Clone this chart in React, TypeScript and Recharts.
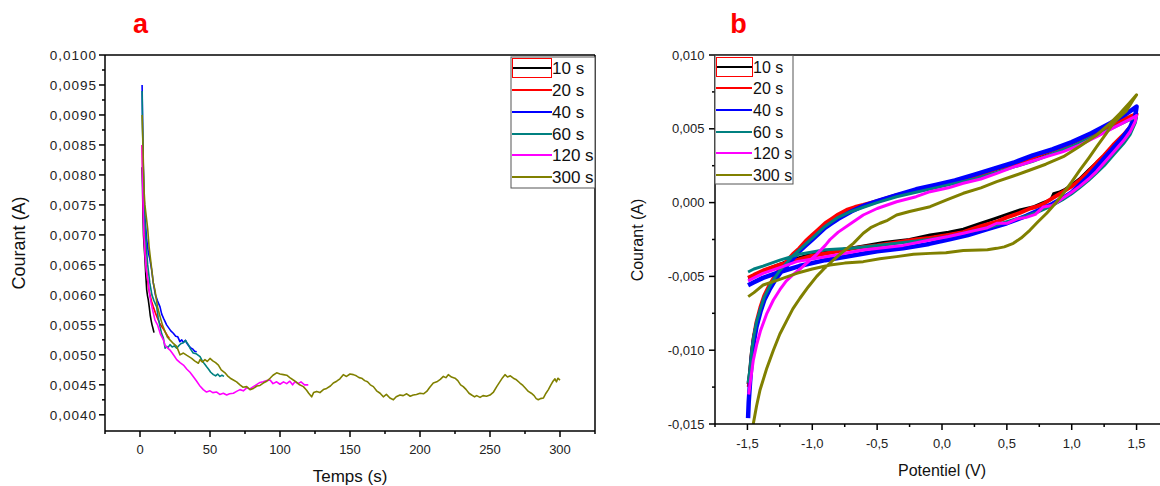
import React from 'react';
import { LineChart, Line, XAxis, YAxis, ReferenceLine } from 'recharts';

const FONT = '"Liberation Sans", Arial, Helvetica, sans-serif';

const seriesNames = ['10 s', '20 s', '40 s', '60 s', '120 s', '300 s'];
const seriesColors = ['#000000', '#FF0000', '#0000FF', '#008080', '#FF00FF', '#808000'];

// ---------- Panel a : Courant vs Temps ----------
const caBlack: [number, number][] = [[1.5,0.00813],[1.8,0.0078],[2.1,0.0074],[2.5,0.0070],[3.0,0.0068],[3.6,0.00658],[4.2,0.0063],[4.8,0.00608],[5.4,0.00598],[5.9,0.00592],[6.6,0.0058],[7.3,0.00566],[7.9,0.00558],[8.6,0.0055],[9.3,0.00544],[10.0,0.00537]];
const caRed: [number, number][] = [[1.5,0.0085],[1.9,0.0080],[2.3,0.0075],[2.8,0.0071],[3.5,0.0068],[4.3,0.0065],[5.2,0.0063],[6.2,0.0061],[7.3,0.00598],[8.4,0.00588],[9.5,0.0058],[11,0.0057],[12.5,0.00561],[14,0.00553],[15.5,0.00547],[17,0.00542],[18.5,0.00536],[19.8,0.00531],[20.9,0.00528]];
const caBlue: [number, number][] = [[1.5,0.0095],[1.9,0.0088],[2.3,0.0082],[2.8,0.0077],[3.5,0.0073],[4.8,0.00692],[6,0.0067],[7,0.0066],[8.3,0.00642],[9.5,0.0062],[11,0.0060],[12.5,0.0059],[14.3,0.0058],[15.5,0.00568],[17,0.0056],[19,0.0055],[20.5,0.00545],[22,0.0054],[23.8,0.00536],[25.5,0.00531],[27,0.0053],[28.5,0.00522],[29.8,0.00525],[31,0.00521],[32.5,0.00524],[33.3,0.0052],[34.5,0.00516],[36,0.00512],[37.5,0.0051],[39,0.00506],[40.5,0.00505]];
const caTeal: [number, number][] = [[1.5,0.0094],[1.9,0.0087],[2.3,0.0081],[2.8,0.0076],[3.5,0.0072],[4.5,0.0068],[5.5,0.0065],[7,0.0062],[8.5,0.006],[10,0.0059],[11.9,0.0058],[13,0.00562],[14.3,0.00547],[15.5,0.00535],[16.7,0.00528],[17.9,0.00511],[19,0.00514],[20,0.00512],[21.4,0.00517],[23,0.00513],[24.5,0.00515],[26.2,0.00511],[28,0.00516],[29.5,0.00519],[31,0.0052],[32.5,0.00524],[34.5,0.00517],[36,0.0051],[38,0.00503],[40,0.00502],[42.9,0.00497],[44.5,0.0049],[46,0.00485],[47.6,0.0048],[49,0.00476],[50.5,0.00471],[52.4,0.00467],[54,0.00465],[55.5,0.00468],[57.1,0.00464],[58.5,0.00466],[60,0.00464]];
const caPink: [number, number][] = [[1.5,0.0085],[1.9,0.0079],[2.3,0.0074],[2.8,0.0070],[3.5,0.0067],[4.5,0.0064],[5.95,0.0062],[7,0.00598],[8.5,0.0058],[10.7,0.00558],[12.5,0.0055],[14.5,0.00535],[16.7,0.00525],[18,0.00515],[19.5,0.00512],[21.4,0.00508],[23,0.00503],[24.5,0.00498],[26.2,0.00492],[28.6,0.00487],[31,0.00483],[33.5,0.00476],[35.7,0.00471],[38,0.00464],[40.5,0.00456],[42.5,0.00449],[45.2,0.00442],[47.5,0.00438],[50,0.0044],[52,0.00437],[54.8,0.00438],[57,0.00434],[59.5,0.00436],[61.9,0.00433],[64,0.00435],[66.7,0.00436],[69,0.00439],[71.4,0.00442],[73.8,0.0044],[76.2,0.00445],[78.5,0.00443],[81,0.00447],[83,0.0045],[85.7,0.00454],[88,0.00455],[90.5,0.00457],[92.9,0.00458],[95,0.00452],[97.6,0.00455],[100,0.00451],[102.5,0.00455],[104.8,0.00452],[107,0.00456],[109,0.0045],[110.7,0.00455],[113,0.00452],[115,0.00455],[117.5,0.0045],[120.2,0.0045]];
const caOlive: [number, number][] = [[1.5,0.0090],[2.0,0.0086],[2.5,0.0081],[3,0.0077],[3.5,0.0075],[4.5,0.0073],[5.5,0.0071],[6.5,0.0068],[7.5,0.0066],[8.5,0.0064],[9.5,0.0062],[10.7,0.00608],[12.5,0.0058],[14.3,0.00564],[16,0.0055],[17.9,0.00539],[19.5,0.0053],[21.4,0.00525],[23.8,0.00519],[26.2,0.00514],[28.6,0.005],[31,0.00503],[33.5,0.00499],[36.9,0.00494],[39,0.0049],[41.7,0.00486],[42.9,0.00492],[44.5,0.00488],[46.4,0.00492],[48,0.00489],[50,0.00494],[52,0.0049],[54,0.00487],[56,0.00483],[58,0.00475],[60.7,0.0047],[62.5,0.00465],[64.5,0.00461],[66.7,0.00458],[69,0.00455],[71.4,0.0045],[73.5,0.00446],[76.2,0.00447],[78.6,0.00442],[81,0.00444],[83.5,0.00448],[85.7,0.00449],[88,0.00453],[90.5,0.00456],[92.9,0.00461],[95,0.00466],[97.6,0.0047],[100,0.00468],[102.4,0.00467],[104.8,0.00466],[107,0.00462],[109.5,0.00458],[111.5,0.00455],[114,0.0045],[116.7,0.00447],[119,0.00441],[120.5,0.00436],[122.6,0.0043],[124,0.00437],[126.2,0.00439],[128.5,0.00437],[131,0.00442],[133.3,0.00444],[136,0.00448],[138.1,0.00453],[140.5,0.00456],[142.8,0.0046],[145.2,0.00467],[147.5,0.00464],[150,0.00468],[152.4,0.00467],[154.5,0.00465],[156.5,0.00462],[158.3,0.00461],[160.5,0.00457],[162.5,0.00455],[164.5,0.0045],[166.7,0.00447],[169,0.0044],[171.5,0.00436],[173.8,0.0043],[176,0.00434],[178.5,0.00428],[181,0.00425],[183,0.0043],[185.7,0.00433],[188,0.00432],[190.5,0.00435],[193,0.00431],[195.2,0.00433],[197.5,0.00434],[200,0.00436],[202.5,0.00435],[204.8,0.00439],[207,0.00446],[209.5,0.00453],[212,0.00455],[214.5,0.00459],[216.7,0.00464],[218.5,0.00462],[220.2,0.00467],[222.5,0.00463],[225,0.00461],[227,0.00457],[229,0.0045],[230.9,0.00447],[233,0.00442],[235,0.00436],[236.9,0.00433],[239,0.0043],[240.5,0.00432],[242.9,0.00429],[245,0.00432],[247.5,0.00431],[250,0.00433],[252.5,0.00438],[254.8,0.00447],[257,0.00455],[259,0.00462],[260.7,0.00467],[262.5,0.00463],[264.5,0.00465],[266.7,0.00461],[268.5,0.00459],[271.4,0.00453],[273.5,0.00449],[275.5,0.00444],[277.4,0.00439],[279.5,0.00436],[281.5,0.00432],[283,0.00427],[284.5,0.00425],[286,0.00427],[288.1,0.00428],[290,0.00436],[291.7,0.00442],[293.5,0.0045],[295,0.00456],[296.4,0.0046],[297.5,0.00455],[298.5,0.00461],[300,0.00458]];

const aXTicks = [-25, 0, 25, 50, 75, 100, 125, 150, 175, 200, 225, 250, 275, 300, 325];
const aXMajor = [0, 50, 100, 150, 200, 250, 300];
const aYTicks = [0.004, 0.00425, 0.0045, 0.00475, 0.005, 0.00525, 0.0055, 0.00575, 0.006, 0.00625, 0.0065, 0.00675, 0.007, 0.00725, 0.0075, 0.00775, 0.008, 0.00825, 0.0085, 0.00875, 0.009, 0.00925, 0.0095, 0.00975, 0.01];
const aYMajor = [0.004, 0.0045, 0.005, 0.0055, 0.006, 0.0065, 0.007, 0.0075, 0.008, 0.0085, 0.009, 0.0095, 0.01];

// ---------- Panel b : Courant vs Potentiel ----------
const cvBlack: [number, number][] = [[-1.495,-0.0123],[-1.485,-0.0116],[-1.47,-0.0102],[-1.455,-0.0092],[-1.43,-0.0082],[-1.40,-0.0072],[-1.37,-0.0064],[-1.33,-0.0057],[-1.29,-0.0051],[-1.25,-0.0046],[-1.20,-0.0041],[-1.15,-0.0036],[-1.10,-0.0032],[-1.05,-0.0027],[-1.0,-0.0023],[-0.95,-0.0019],[-0.9,-0.0015],[-0.85,-0.0012],[-0.8,-0.0009],[-0.7,-0.0005],[-0.6,-0.0002],[-0.5,0.0001],[-0.35,0.0005],[-0.2,0.0008],[-0.05,0.0011],[0.1,0.0014],[0.25,0.0018],[0.4,0.0022],[0.55,0.0026],[0.7,0.003],[0.85,0.0035],[1.0,0.004],[1.15,0.0046],[1.3,0.0052],[1.42,0.0057],[1.5,0.006],
  [1.49,0.0056],[1.45,0.005],[1.4,0.0045],[1.32,0.0038],[1.25,0.0032],[1.19,0.0027],[1.13,0.0022],[1.06,0.0016],[1.0,0.0012],[0.95,0.0009],[0.9,0.0007],[0.86,0.0006],[0.84,0.0002],[0.78,0.0],[0.7,-0.0003],[0.6,-0.0005],[0.5,-0.0008],[0.4,-0.0011],[0.3,-0.0014],[0.164,-0.0018],[0.05,-0.002],[-0.092,-0.0022],[-0.25,-0.0025],[-0.45,-0.0027],[-0.65,-0.003],[-0.85,-0.0033],[-1.05,-0.0036],[-1.2,-0.004],[-1.32,-0.0044],[-1.42,-0.0048],[-1.495,-0.0051]];
const cvRed: [number, number][] = [[-1.49,-0.0125],[-1.48,-0.0118],[-1.465,-0.0102],[-1.45,-0.0091],[-1.43,-0.0081],[-1.40,-0.0071],[-1.37,-0.0063],[-1.33,-0.0056],[-1.29,-0.005],[-1.25,-0.0045],[-1.20,-0.004],[-1.15,-0.0035],[-1.10,-0.0031],[-1.05,-0.0026],[-1.0,-0.0022],[-0.95,-0.0018],[-0.9,-0.0014],[-0.85,-0.0011],[-0.8,-0.0008],[-0.735,-0.0005],[-0.67,-0.0003],[-0.607,-0.00016],[-0.5,0.0001],[-0.35,0.0005],[-0.2,0.0008],[-0.092,0.00108],[0.05,0.0013],[0.164,0.00153],[0.3,0.0019],[0.422,0.00232],[0.55,0.0026],[0.679,0.003],[0.8,0.0034],[0.935,0.00379],[1.06,0.0043],[1.193,0.0048],[1.32,0.0053],[1.45,0.00582],[1.5,0.006],
  [1.49,0.0057],[1.45,0.0051],[1.4,0.0046],[1.32,0.0039],[1.25,0.0032],[1.193,0.0027],[1.13,0.0021],[1.064,0.00153],[1.0,0.0011],[0.935,0.00074],[0.87,0.0004],[0.833,0.0002],[0.78,-0.0001],[0.72,-0.0003],[0.679,-0.0004],[0.6,-0.0007],[0.5,-0.001],[0.422,-0.0013],[0.3,-0.0016],[0.164,-0.002],[0.05,-0.0022],[-0.092,-0.0024],[-0.2,-0.0025],[-0.35,-0.0027],[-0.5,-0.0029],[-0.607,-0.003],[-0.75,-0.0032],[-0.863,-0.0034],[-1.0,-0.0036],[-1.12,-0.0039],[-1.25,-0.0042],[-1.378,-0.0046],[-1.45,-0.0049],[-1.494,-0.0051]];
const cvBlue: [number, number][] = [[-1.495,-0.0146],[-1.49,-0.0135],[-1.48,-0.0122],[-1.465,-0.0105],[-1.45,-0.0094],[-1.43,-0.0084],[-1.40,-0.0074],[-1.37,-0.0066],[-1.33,-0.0059],[-1.29,-0.0053],[-1.25,-0.0048],[-1.20,-0.0043],[-1.15,-0.0038],[-1.10,-0.0033],[-1.05,-0.0029],[-1.0,-0.0025],[-0.95,-0.0021],[-0.9,-0.0017],[-0.85,-0.0014],[-0.8,-0.0011],[-0.7,-0.0006],[-0.6,-0.0002],[-0.5,0.0001],[-0.35,0.0005],[-0.2,0.0009],[-0.05,0.0012],[0.1,0.0015],[0.25,0.0019],[0.4,0.0023],[0.55,0.0027],[0.7,0.0032],[0.85,0.0036],[1.0,0.0041],[1.15,0.0047],[1.3,0.0054],[1.42,0.006],[1.5,0.0065],
  [1.49,0.0059],[1.45,0.0051],[1.4,0.0045],[1.32,0.0037],[1.25,0.003],[1.19,0.0024],[1.13,0.0018],[1.06,0.0012],[1.0,0.0007],[0.93,0.0003],[0.85,-0.0001],[0.75,-0.0005],[0.65,-0.0009],[0.5,-0.0014],[0.35,-0.0018],[0.2,-0.0022],[0.05,-0.0025],[-0.1,-0.0028],[-0.3,-0.0031],[-0.5,-0.0033],[-0.7,-0.0036],[-0.9,-0.0039],[-1.1,-0.0043],[-1.25,-0.0047],[-1.38,-0.0051],[-1.45,-0.0054],[-1.495,-0.0056]];
const cvTeal: [number, number][] = [[-1.495,-0.0122],[-1.48,-0.0113],[-1.465,-0.0099],[-1.45,-0.009],[-1.43,-0.0081],[-1.40,-0.0072],[-1.37,-0.0064],[-1.33,-0.0057],[-1.29,-0.0051],[-1.25,-0.0046],[-1.20,-0.0041],[-1.15,-0.0036],[-1.10,-0.0032],[-1.05,-0.0028],[-1.0,-0.0024],[-0.95,-0.002],[-0.9,-0.0016],[-0.85,-0.0013],[-0.8,-0.001],[-0.7,-0.0006],[-0.6,-0.0003],[-0.5,0.0],[-0.35,0.0004],[-0.2,0.0007],[-0.05,0.001],[0.1,0.0013],[0.25,0.0016],[0.4,0.002],[0.55,0.0024],[0.7,0.0028],[0.85,0.0033],[1.0,0.0038],[1.15,0.0044],[1.3,0.005],[1.42,0.0055],[1.5,0.0058],
  [1.49,0.0054],[1.45,0.0046],[1.4,0.004],[1.32,0.0032],[1.25,0.0025],[1.19,0.002],[1.13,0.0015],[1.06,0.001],[1.0,0.0006],[0.93,0.0002],[0.85,-0.0002],[0.75,-0.0006],[0.65,-0.0009],[0.5,-0.0013],[0.35,-0.0017],[0.2,-0.002],[0.05,-0.0023],[-0.1,-0.0025],[-0.3,-0.0027],[-0.5,-0.0029],[-0.7,-0.0031],[-0.9,-0.0032],[-1.1,-0.0035],[-1.25,-0.0039],[-1.38,-0.0043],[-1.45,-0.0045],[-1.495,-0.0047]];
const cvPink: [number, number][] = [[-1.49,-0.013],[-1.48,-0.0123],[-1.455,-0.0107],[-1.428,-0.0096],[-1.40,-0.0087],[-1.35,-0.0075],[-1.30,-0.0066],[-1.25,-0.0059],[-1.2,-0.0053],[-1.15,-0.0049],[-1.095,-0.0045],[-1.03,-0.004],[-0.966,-0.0035],[-0.9,-0.0029],[-0.863,-0.0025],[-0.8,-0.002],[-0.7,-0.0014],[-0.607,-0.00084],[-0.5,-0.0004],[-0.35,0.00006],[-0.2,0.0004],[-0.092,0.00074],[0.05,0.001],[0.164,0.00131],[0.3,0.0016],[0.422,0.00198],[0.55,0.0024],[0.679,0.00277],[0.8,0.0031],[0.935,0.00345],[1.06,0.0039],[1.193,0.00447],[1.35,0.0052],[1.488,0.00582],[1.5,0.0059],
  [1.49,0.0055],[1.45,0.0048],[1.4,0.0042],[1.32,0.0034],[1.25,0.0027],[1.19,0.0021],[1.13,0.0016],[1.06,0.0011],[1.0,0.0007],[0.93,0.0003],[0.85,-0.0002],[0.78,-0.0003],[0.72,-0.0008],[0.65,-0.001],[0.58,-0.0011],[0.5,-0.0014],[0.422,-0.0014],[0.35,-0.0017],[0.25,-0.0019],[0.164,-0.00208],[0.05,-0.0023],[-0.092,-0.00253],[-0.3,-0.0029],[-0.607,-0.00321],[-0.85,-0.0036],[-1.12,-0.004],[-1.25,-0.0044],[-1.38,-0.0048],[-1.45,-0.0051],[-1.495,-0.0053]];
const cvOlive: [number, number][] = [[-1.455,-0.015],[-1.43,-0.0138],[-1.403,-0.0127],[-1.35,-0.0112],[-1.3,-0.01],[-1.25,-0.0089],[-1.197,-0.008],[-1.15,-0.0072],[-1.095,-0.00648],[-1.03,-0.0057],[-0.966,-0.005],[-0.9,-0.0044],[-0.838,-0.00389],[-0.76,-0.0033],[-0.683,-0.00276],[-0.607,-0.00208],[-0.55,-0.0017],[-0.478,-0.0014],[-0.42,-0.0012],[-0.35,-0.00084],[-0.25,-0.0006],[-0.15,-0.0004],[-0.092,-0.00028],[0.036,0.00018],[0.164,0.00063],[0.3,0.001],[0.422,0.00142],[0.55,0.0018],[0.679,0.00221],[0.8,0.0026],[0.935,0.00311],[1.06,0.0038],[1.193,0.00458],[1.3,0.0054],[1.373,0.00605],[1.45,0.0068],[1.5,0.0073],
  [1.47,0.0069],[1.42,0.0062],[1.37,0.0058],[1.32,0.00537],[1.26,0.0046],[1.193,0.00379],[1.13,0.003],[1.064,0.00221],[1.0,0.0014],[0.935,0.00063],[0.87,-0.0001],[0.807,-0.00072],[0.74,-0.0013],[0.679,-0.00186],[0.61,-0.0024],[0.55,-0.00276],[0.48,-0.003],[0.422,-0.0031],[0.35,-0.0032],[0.293,-0.00321],[0.164,-0.00325],[0.03,-0.0034],[-0.092,-0.00344],[-0.22,-0.0035],[-0.35,-0.00366],[-0.48,-0.0038],[-0.607,-0.004],[-0.75,-0.0041],[-0.863,-0.00423],[-1.0,-0.0045],[-1.12,-0.00479],[-1.25,-0.0052],[-1.378,-0.00558],[-1.45,-0.0061],[-1.494,-0.00637]];

const bXTicks = [-1.75, -1.5, -1.25, -1, -0.75, -0.5, -0.25, 0, 0.25, 0.5, 0.75, 1, 1.25, 1.5, 1.75];
const bXMajor = [-1.5, -1, -0.5, 0, 0.5, 1, 1.5];
const bYTicks = [-0.015, -0.0125, -0.01, -0.0075, -0.005, -0.0025, 0, 0.0025, 0.005, 0.0075, 0.01];
const bYMajor = [-0.015, -0.01, -0.005, 0, 0.005, 0.01];

const caSeries = [caBlack, caRed, caBlue, caTeal, caPink, caOlive];
const cvSeries = [cvBlack, cvRed, cvBlue, cvTeal, cvPink, cvOlive];
const cvWidths = [3, 4, 4.5, 3, 3, 3];

const toCA = (arr: [number, number][]) => arr.map(([t, i]) => ({ t, i }));
const toCV = (arr: [number, number][]) => arr.map(([v, i]) => ({ v, i }));

const isIn = (list: number[], v: number) => list.some((m) => Math.abs(m - v) < 1e-9);
const comma = (s: string) => s.replace('.', ',');

function makeTick(
  orient: 'left' | 'bottom',
  majors: number[],
  fmt: (v: number) => string,
  fontSize: number,
  offset: number,
  letterSpacing = 0
) {
  return (props: any) => {
    const { x, y, payload } = props;
    const v = payload.value as number;
    const major = isIn(majors, v);
    const len = major ? 6 : 3;
    if (orient === 'left') {
      return (
        <g>
          <line x1={x} x2={x - len} y1={y} y2={y} stroke="#000" strokeWidth={1.5} />
          {major && (
            <text x={x - offset} y={y + fontSize * 0.36} textAnchor="end" fontSize={fontSize}
              fontFamily={FONT} fill="#222" letterSpacing={letterSpacing}>{fmt(v)}</text>
          )}
        </g>
      );
    }
    return (
      <g>
        <line x1={x} x2={x} y1={y} y2={y + len} stroke="#000" strokeWidth={1.5} />
        {major && (
          <text x={x} y={y + offset} textAnchor="middle" fontSize={fontSize}
            fontFamily={FONT} fill="#222">{fmt(v)}</text>
        )}
      </g>
    );
  };
}

const aXTick = makeTick('bottom', aXMajor, (v) => String(v), 13, 23);
const aYTick = makeTick('left', aYMajor, (v) => comma(v.toFixed(4)), 13.5, 8, 1);
const bXTick = makeTick('bottom', bXMajor, (v) => comma(v.toFixed(1)), 13, 24);
const bYTick = makeTick('left', bYMajor, (v) => comma(v.toFixed(3)), 13, 10.5);

const aRows = [68, 90, 112, 134, 155, 177];
const bRows = [67, 88, 110, 132, 153, 175];

export default function App() {
  return (
    <div style={{ position: 'fixed', left: 0, top: 0, width: 1160, height: 486, overflow: 'hidden', background: '#fff' }}>
      <div style={{ position: 'absolute', left: 0, top: 0 }}>
        <LineChart width={600} height={486} margin={{ top: 55, right: 5, bottom: 0, left: 0 }}>
          <XAxis type="number" dataKey="t" domain={[-25, 325]} allowDataOverflow ticks={aXTicks} interval={0}
            tick={aXTick} tickLine={false} tickSize={0} tickMargin={0} height={55}
            axisLine={{ stroke: '#000', strokeWidth: 1.5 }} />
          <YAxis type="number" dataKey="i" domain={[0.00373, 0.01]} allowDataOverflow ticks={aYTicks} interval={0}
            tick={aYTick} tickLine={false} tickSize={0} tickMargin={0} width={105}
            axisLine={{ stroke: '#000', strokeWidth: 1.5 }} />
          <ReferenceLine y={0.01} stroke="#000" strokeWidth={1.5} />
          <ReferenceLine x={325} stroke="#000" strokeWidth={1.5} />
          {caSeries.map((s, k) => (
            <Line key={k} data={toCA(s)} dataKey="i" type="linear" stroke={seriesColors[k]} strokeWidth={1.6}
              dot={false} activeDot={false} isAnimationActive={false} strokeLinejoin="round" />
          ))}
        </LineChart>
      </div>
      <div style={{ position: 'absolute', left: 600, top: 0 }}>
        <LineChart width={575} height={486} margin={{ top: 55, right: 6, bottom: 0, left: 0 }}>
          <XAxis type="number" dataKey="v" domain={[-1.75, 1.75]} allowDataOverflow ticks={bXTicks} interval={0}
            tick={bXTick} tickLine={false} tickSize={0} tickMargin={0} height={62}
            axisLine={{ stroke: '#000', strokeWidth: 1.5 }} />
          <YAxis type="number" dataKey="i" domain={[-0.015, 0.01]} allowDataOverflow ticks={bYTicks} interval={0}
            tick={bYTick} tickLine={false} tickSize={0} tickMargin={0} width={115}
            axisLine={{ stroke: '#000', strokeWidth: 1.5 }} />
          <ReferenceLine y={0.01} stroke="#000" strokeWidth={1.5} />
          {cvSeries.map((s, k) => (
            <Line key={k} data={toCV(s)} dataKey="i" type="linear" stroke={seriesColors[k]} strokeWidth={cvWidths[k]}
              dot={false} activeDot={false} isAnimationActive={false} strokeLinejoin="round" />
          ))}
        </LineChart>
      </div>
      <svg width={1160} height={486} style={{ position: 'absolute', left: 0, top: 0, pointerEvents: 'none' }}>
        <text x={140.5} y={33} textAnchor="middle" fontSize={27} fontWeight="bold" fontFamily={FONT} fill="#FF0000">a</text>
        <text x={738.5} y={33} textAnchor="middle" fontSize={27} fontWeight="bold" fontFamily={FONT} fill="#FF0000">b</text>
        <text transform="translate(25,243) rotate(-90)" textAnchor="middle" fontSize={18} fontFamily={FONT} fill="#111">Courant (A)</text>
        <text transform="translate(643,240) rotate(-90)" textAnchor="middle" fontSize={16} fontFamily={FONT} fill="#111">Courant (A)</text>
        <text x={350} y={482} textAnchor="middle" fontSize={17} fontFamily={FONT} fill="#111">Temps (s)</text>
        <text x={942} y={476} textAnchor="middle" fontSize={16} fontFamily={FONT} fill="#111">Potentiel (V)</text>

        <rect x={511} y={57} width={84} height={131} fill="#fff" stroke="#555" strokeWidth={1} />
        {seriesNames.map((n, k) => (
          <g key={'a' + k}>
            <line x1={512} x2={552} y1={aRows[k]} y2={aRows[k]} stroke={seriesColors[k]} strokeWidth={2} />
            <text x={552} y={aRows[k] + 6} fontSize={17} fontFamily={FONT} fill="#111">{n}</text>
          </g>
        ))}
        <rect x={512.5} y={58.5} width={39} height={19} fill="none" stroke="#FF0000" strokeWidth={1} />

        <rect x={715} y={55.5} width={78} height={128.5} fill="#fff" stroke="#555" strokeWidth={1} />
        {seriesNames.map((n, k) => (
          <g key={'b' + k}>
            <line x1={716} x2={752} y1={bRows[k]} y2={bRows[k]} stroke={seriesColors[k]} strokeWidth={2} />
            <text x={753} y={bRows[k] + 6} fontSize={16} fontFamily={FONT} fill="#111">{n}</text>
          </g>
        ))}
        <rect x={716.5} y={57.5} width={36} height={19} fill="none" stroke="#FF0000" strokeWidth={1} />
      </svg>
    </div>
  );
}
